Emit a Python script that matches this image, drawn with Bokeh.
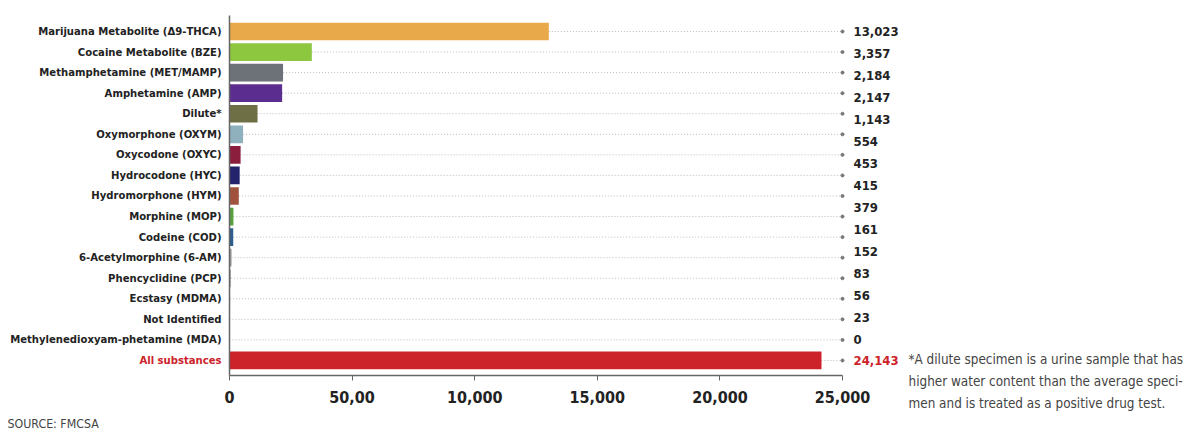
from bokeh.plotting import figure
from bokeh.models import ColumnDataSource, Range1d, FixedTicker, LinearAxis
from bokeh.core.properties import value
from bokeh.embed import file_html
from bokeh.resources import INLINE

categories = [
    "Marijuana Metabolite (Δ9-THCA)",
    "Cocaine Metabolite (BZE)",
    "Methamphetamine (MET/MAMP)",
    "Amphetamine (AMP)",
    "Dilute*",
    "Oxymorphone (OXYM)",
    "Oxycodone (OXYC)",
    "Hydrocodone (HYC)",
    "Hydromorphone (HYM)",
    "Morphine (MOP)",
    "Codeine (COD)",
    "6-Acetylmorphine (6-AM)",
    "Phencyclidine (PCP)",
    "Ecstasy (MDMA)",
    "Not Identified",
    "Methylenedioxyam-phetamine (MDA)",
    "All substances",
]
counts = [13023, 3357, 2184, 2147, 1143, 554, 453, 415, 379, 161, 152, 83, 56, 23, 0, 0, 24143]
bar_colors = ["#e8a94a", "#8dc63f", "#6d7278", "#5b2d8e", "#6f6f45", "#8fb0bd", "#8a1e3c",
              "#23236b", "#a0523d", "#5aa040", "#2b5d8f", "#999999", "#aaaaaa", "#aaaaaa",
              "#aaaaaa", "#aaaaaa", "#cc2229"]
# value labels as printed in the source (15 labels for the 16 substance rows + total)
value_labels = ["13,023", "3,357", "2,184", "2,147", "1,143", "554", "453", "415", "379",
                "161", "152", "83", "56", "23", "0"]
total_label = "24,143"
x_ticks = [0, 5000, 10000, 15000, 20000, 25000]
x_tick_labels = ["0", "50,00", "10,000", "15,000", "20,000", "25,000"]
footnote = ["*A dilute specimen is a urine sample that has",
            "higher water content than the average speci-",
            "men and is treated as a positive drug test."]
source_text = "SOURCE: FMCSA"

AXIS_END = 25000
FONT = "DejaVu Sans Condensed"
DARK = "#222222"
RED = "#cc2229"

n = len(categories)
rows = list(range(n))
label_colors = [DARK] * (n - 1) + [RED]

src = ColumnDataSource(dict(
    row=rows, cat=categories, val=counts, color=bar_colors,
    lcolor=label_colors, end=[AXIS_END] * n, zero=[0] * n,
))

# the printed value labels are spread evenly over the 16 substance rows
nl = len(value_labels)
spread = (n - 2) / (nl - 1)
vsrc = ColumnDataSource(dict(
    row=[i * spread for i in range(nl)] + [n - 1],
    lab=value_labels + [total_label],
    lcolor=[DARK] * nl + [RED],
    end=[AXIS_END] * (nl + 1),
))

# pixel geometry of the frame (whole canvas)
W, H = 1200, 432
X0_PX, XEND_PX = 229, 842
ROW0_PX, ROW_STEP = 31.0, 20.56
ppu = (XEND_PX - X0_PX) / AXIS_END

x_start = -X0_PX / ppu
x_end = (W - X0_PX) / ppu
y_top = -ROW0_PX / ROW_STEP
y_bottom = (H - ROW0_PX) / ROW_STEP

def px_to_row(py):
    return (py - ROW0_PX) / ROW_STEP

def px_to_x(px):
    return (px - X0_PX) / ppu

p = figure(
    width=W, height=H, output_backend="svg", toolbar_location=None,
    x_range=Range1d(x_start, x_end), y_range=Range1d(y_bottom, y_top),
    x_axis_type=None, y_axis_type=None,
    min_border=0,
)
p.outline_line_color = None
p.xgrid.visible = False
p.ygrid.visible = False

# dotted leader lines and end dots
p.segment(x0="val", y0="row", x1="end", y1="row", source=src, line_color="#bbbbbb",
          line_dash="1 2", line_width=1)
p.scatter(x="end", y="row", source=src, size=3, color="#777777")

# bars
p.hbar(y="row", right="val", left=0, height=0.86, source=src, fill_color="color",
       line_color=None)

axis_row = px_to_row(375)

# x axis (placed inside the frame)
xax = LinearAxis(fixed_location=axis_row, bounds=(0, AXIS_END))
xax.ticker = FixedTicker(ticks=x_ticks)
xax.major_label_overrides = {t: l for t, l in zip(x_ticks, x_tick_labels)}
xax.major_label_text_font = FONT
xax.major_label_text_font_style = "bold"
xax.major_label_text_font_size = "16px"
xax.major_label_text_color = DARK
xax.major_label_standoff = 10
xax.axis_line_color = "#666666"
xax.axis_line_width = 1.5
xax.major_tick_line_color = "#666666"
xax.major_tick_in = 0
xax.major_tick_out = 5
xax.minor_tick_line_color = None
p.add_layout(xax, "below")

# y axis line (no ticks / labels)
yax = LinearAxis(fixed_location=0, bounds=(px_to_row(15), axis_row))
yax.ticker = FixedTicker(ticks=[])
yax.major_label_text_font_size = "0px"
yax.major_tick_line_color = None
yax.minor_tick_line_color = None
yax.axis_line_color = "#666666"
yax.axis_line_width = 1.5
p.add_layout(yax, "left")

# category labels
p.text(x="zero", y="row", text="cat", source=src, x_offset=-8,
       text_align="right", text_baseline="middle",
       text_font=value(FONT), text_font_style="bold", text_font_size="11.2px",
       text_color="lcolor")
# value labels
p.text(x="end", y="row", text="lab", source=vsrc, x_offset=11,
       text_align="left", text_baseline="middle",
       text_font=value(FONT), text_font_style="bold", text_font_size="13px",
       text_color="lcolor")

fx = [px_to_x(908)] * len(footnote)
fy = [px_to_row(359 + 22 * i) for i in range(len(footnote))]
p.text(x=fx, y=fy, text=footnote, text_font=value(FONT), text_font_size="13.4px",
       text_color="#444444", text_baseline="middle")

p.text(x=[px_to_x(7)], y=[px_to_row(423)], text=[source_text], text_font=value(FONT),
       text_font_size="12.3px", text_color="#444444", text_baseline="middle")

open("out.html", "w").write(file_html(p, INLINE))
